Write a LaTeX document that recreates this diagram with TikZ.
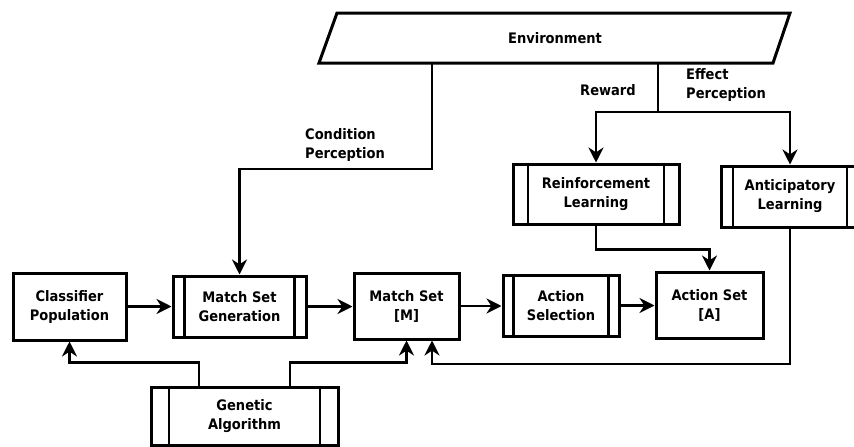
\documentclass[tikz,border=0pt]{standalone}
\usepackage{fontspec}
\setmainfont{DejaVu Sans Condensed}
\usetikzlibrary{arrows.meta}
\begin{document}
\begin{tikzpicture}[x=1pt,y=-1pt,
  txt/.style={inner sep=0pt, font=\fontsize{14.5}{19}\selectfont\bfseries},
  box/.style={txt, draw, line width=3pt, align=center},
  lbl/.style={txt, align=left},
  conn/.style={line width=2.7pt},
  arr/.style={conn, -{Stealth[length=15pt,width=15pt]}},
  bar/.style={line width=2.6pt}
]
\useasboundingbox (0,0) rectangle (854,447);
% Environment
\coordinate (etl) at (337,13);
\coordinate (etr) at (790,13);
\coordinate (ebr) at (773,63);
\coordinate (ebl) at (319,63);
\draw[line width=3pt] (etl) -- (etr) -- (ebr) -- (ebl) -- cycle;
\node[txt] (env) at (555,38) {Environment};
% boxes
\node[box, minimum width=113pt, minimum height=67pt] (cp) at (69.5,306.5) {Classifier\\Population};
\node[box, minimum width=133pt, minimum height=61pt] (msg) at (239.5,306.5) {Match Set\\Generation};
\node[box, minimum width=105pt, minimum height=66pt] (ms) at (406.5,306) {Match Set\\{[M]}};
\node[box, minimum width=116pt, minimum height=61pt] (asel) at (561,305.5) {Action\\Selection};
\node[box, minimum width=107pt, minimum height=66pt] (aset) at (709.5,305) {Action Set\\{[A]}};
\node[box, minimum width=166pt, minimum height=60pt] (rl) at (596,194) {Reinforcement\\Learning};
\node[box, minimum width=138pt, minimum height=61pt] (al) at (790,196.5) {Anticipatory\\Learning};
\node[box, minimum width=187pt, minimum height=58pt] (ga) at (244.5,416) {Genetic\\Algorithm};
% process bars
\foreach \n/\d in {msg/13, asel/12, rl/16.5, al/13.5, ga/19.5}{
  \draw[bar] ([xshift=\d pt]\n.north west) -- ([xshift=\d pt]\n.south west);
  \draw[bar] ([xshift=-\d pt]\n.north east) -- ([xshift=-\d pt]\n.south east);
}
% labels
\node[lbl, anchor=west] (cond) at (305,145) {Condition\\Perception};
\node[lbl] (rew) at (608,90) {Reward};
\node[lbl, anchor=west] (eff) at (686,85) {Effect\\Perception};
% connectors from environment
\coordinate (e1) at (432,63);
\coordinate (e2) at (658,63);
\coordinate (sp) at (658,112);
\draw[arr] (e1) -- (432,169) -| (msg.north);
\draw[conn] (e2) -- (sp);
\draw[arr] (sp) -| (rl.north);
\draw[arr] (sp) -| (al.north);
% learning connectors
\draw[arr] (rl.south) -- ++(0,24) -| (aset.north);
\draw[arr] (al.south) -- (790,364) -| ([xshift=25.5pt]ms.south);
% genetic algorithm
\draw[arr] ([xshift=-45.5pt]ga.north) -- ++(0,-23) -| (cp.south);
\draw[arr] ([xshift=45.5pt]ga.north) -- ++(0,-23) -| (ms.south);
% main chain
\draw[arr] (cp.east) -- (cp.east -| msg.west);
\draw[arr] (msg.east) -- (msg.east -| ms.west);
\draw[arr] (ms.east) -- (ms.east -| asel.west);
\draw[arr] (asel.east) -- (asel.east -| aset.west);
\end{tikzpicture}
\end{document}
